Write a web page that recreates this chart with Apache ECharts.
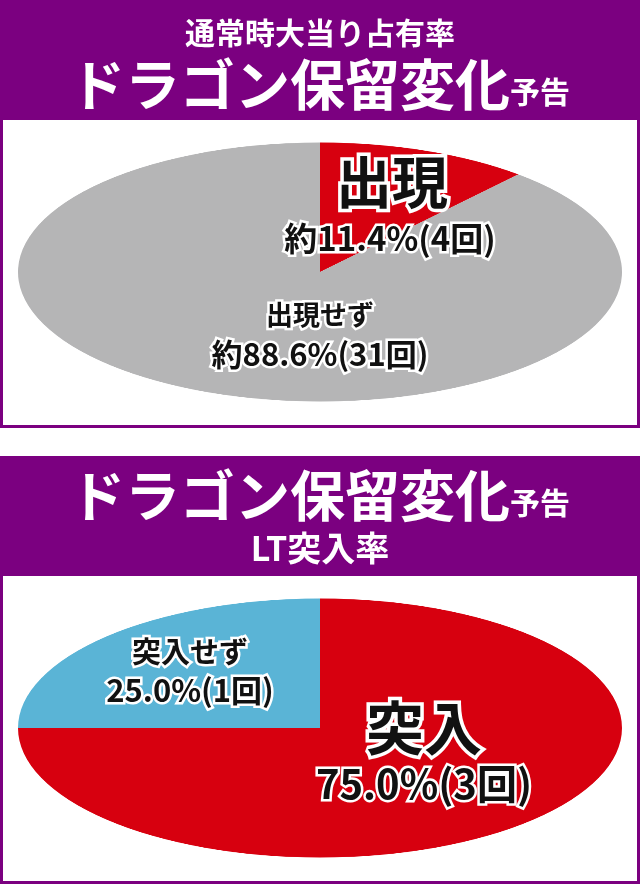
<!DOCTYPE html>
<html>
<head>
<meta charset="utf-8">
<script src="https://cdn.jsdelivr.net/npm/echarts@6/dist/echarts.min.js"></script>
<style>
  html, body { margin: 0; padding: 0; background: #fff; }
  #wrap { position: relative; width: 640px; height: 884px; overflow: hidden; }
  .layer { position: absolute; left: 0; top: 0; width: 640px; height: 884px; }
  .pie { position: absolute; left: 18px; width: 604px; height: 604px; transform: scaleY(0.4288); transform-origin: 50% 50%; }
  #labels { pointer-events: none; }
</style>
</head>
<body>
<div id="wrap">
  <div id="bg" class="layer"></div>
  <div id="pie1" class="pie" style="top:-30px"></div>
  <div id="pie2" class="pie" style="top:426px"></div>
  <div id="labels" class="layer"></div>
</div>
<script>
  let font = '"Noto Sans CJK JP", sans-serif';
  let purple = '#7b0080';

  // 上：通常時大当り占有率
  let names1 = ['出現', '出現せず'];
  let percent1 = [11.4, 88.6];
  let counts1 = [4, 31];
  let colors1 = ['#d7000f', '#b5b5b6'];

  // 下：LT突入率
  let names2 = ['突入', '突入せず'];
  let percent2 = [75.0, 25.0];
  let counts2 = [3, 1];
  let colors2 = ['#d7000f', '#5ab4d6'];

  let titleRich = {
    a: { fill: '#fff', font: 'bold 55px ' + font, verticalAlign: 'bottom' },
    b: { fill: '#fff', font: 'bold 30px ' + font, verticalAlign: 'bottom', padding: [0, 0, 5, 0] }
  };

  let bgChart = echarts.init(document.getElementById('bg'));
  bgChart.setOption({
    graphic: [
      { type: 'rect', shape: { x: 1.5, y: 1.5, width: 637, height: 425 }, style: { fill: '#fff', stroke: purple, lineWidth: 3 } },
      { type: 'rect', shape: { x: 0, y: 0, width: 640, height: 120 }, style: { fill: purple } },
      { type: 'rect', shape: { x: 1.5, y: 457.5, width: 637, height: 425 }, style: { fill: '#fff', stroke: purple, lineWidth: 3 } },
      { type: 'rect', shape: { x: 0, y: 456, width: 640, height: 120 }, style: { fill: purple } },
      { type: 'text', x: 320, y: 33, style: { text: '通常時大当り占有率', fill: '#fff', font: 'bold 30px ' + font, align: 'center', verticalAlign: 'middle' } },
      { type: 'text', x: 320, y: 84, style: { text: '{a|ドラゴン保留変化}{b|予告}', align: 'center', verticalAlign: 'middle', rich: titleRich } },
      { type: 'text', x: 320, y: 495, style: { text: '{a|ドラゴン保留変化}{b|予告}', align: 'center', verticalAlign: 'middle', rich: titleRich } },
      { type: 'text', x: 320, y: 548, style: { text: 'LT突入率', fill: '#fff', font: 'bold 34px ' + font, align: 'center', verticalAlign: 'middle' } }
    ]
  });

  function pieOption(names, values, colors) {
    return {
      animation: false,
      series: [{
        type: 'pie',
        radius: ['0%', '100%'],
        center: ['50%', '50%'],
        startAngle: 90,
        clockwise: true,
        label: { show: false },
        labelLine: { show: false },
        itemStyle: { borderWidth: 0 },
        emphasis: { disabled: true },
        data: names.map((n, i) => ({ name: n, value: values[i], itemStyle: { color: colors[i] } }))
      }]
    };
  }
  echarts.init(document.getElementById('pie1')).setOption(pieOption(names1, percent1, colors1));
  echarts.init(document.getElementById('pie2')).setOption(pieOption(names2, percent2, colors2));

  function label(x, y, text, size) {
    return { type: 'text', x: x, y: y, style: { text: text, fill: '#111', stroke: '#fff', lineWidth: size > 40 ? 7 : 5,
      font: 'bold ' + size + 'px ' + font, align: 'center', verticalAlign: 'middle' } };
  }
  let labelChart = echarts.init(document.getElementById('labels'));
  labelChart.setOption({
    graphic: [
      label(392, 182, names1[0], 56),
      label(390, 238, '約' + percent1[0].toFixed(1) + '%(' + counts1[0] + '回)', 33),
      label(320, 315, names1[1], 27),
      label(320, 354, '約' + percent1[1].toFixed(1) + '%(' + counts1[1] + '回)', 31),
      label(190, 652, names2[1], 29),
      label(190, 690, percent2[1].toFixed(1) + '%(' + counts2[1] + '回)', 31),
      label(424, 728, names2[0], 58),
      label(424, 784, percent2[0].toFixed(1) + '%(' + counts2[0] + '回)', 40)
    ]
  });
</script>
</body>
</html>
